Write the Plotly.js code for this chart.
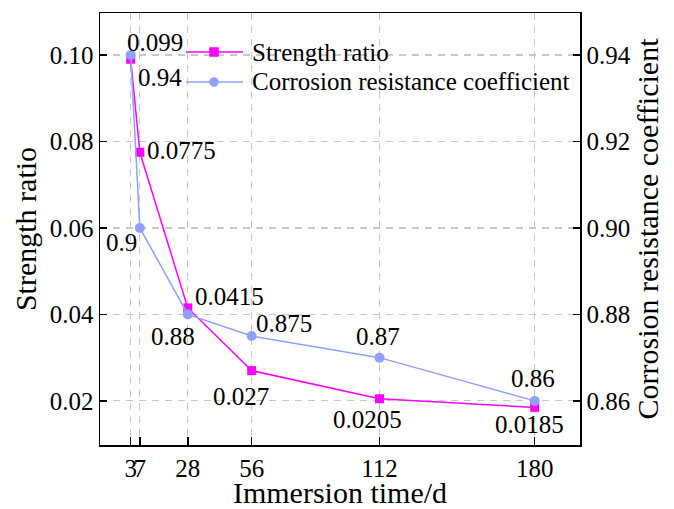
<!DOCTYPE html>
<html>
<head>
<meta charset="utf-8">
<script src="https://cdn.plot.ly/plotly-3.0.1.min.js"></script>
<style>
  html, body { margin: 0; padding: 0; background: #ffffff; }
</style>
</head>
<body>
<div id="chart"></div>
<script>
// Immersion time (days) and the two measured series
const days = [3, 7, 28, 56, 112, 180];
const dayLabels = ['3', '7', '28', '56', '112', '180'];
const strengthRatio = [0.099, 0.0775, 0.0415, 0.027, 0.0205, 0.0185];
const corrosionCoef = [0.94, 0.90, 0.88, 0.875, 0.87, 0.86];

// Label offsets (pixels) for the value tags beside each point
const strengthShift = [[24, 17], [42, 2], [42, 11], [-11, -26], [-12, -21], [-5, -17]];
const corrosionShift = [[29, -23], [-18, -15], [-15, -22], [32, 13], [-1, 21], [-2, 22]];

const PINK = '#ff00ff';
const BLUE = '#8fa0ff';

const traces = [
  {
    x: days, y: strengthRatio, name: 'Strength ratio', yaxis: 'y',
    mode: 'lines+markers',
    line: { color: PINK, width: 1.5 },
    marker: { symbol: 'square', size: 9, color: PINK },
    showlegend: false
  },
  {
    x: days, y: corrosionCoef, name: 'Corrosion resistance coefficient', yaxis: 'y2',
    mode: 'lines+markers',
    line: { color: BLUE, width: 1.5 },
    marker: { symbol: 'circle', size: 10, color: BLUE },
    showlegend: false
  }
];

const annotations = [];
strengthRatio.forEach((v, i) => {
  annotations.push({
    x: days[i], y: v, xref: 'x', yref: 'y', text: String(v), showarrow: false,
    xshift: strengthShift[i][0], yshift: strengthShift[i][1]
  });
});
corrosionCoef.forEach((v, i) => {
  annotations.push({
    x: days[i], y: v, xref: 'x', yref: 'y2', text: String(v), showarrow: false,
    xshift: corrosionShift[i][0], yshift: corrosionShift[i][1]
  });
});

// Legend drawn as line + marker samples with text entries
const legendRows = [
  { y: 0.9097, color: PINK, shape: 'rect', text: traces[0].name },
  { y: 0.8403, color: BLUE, shape: 'circle', text: traces[1].name }
];
const shapes = [];
const lx0 = 0.1792, lx1 = 0.2979, lxm = 0.2375;
const mw = 4.5 / 480, mh = 4.5 / 432;
legendRows.forEach(r => {
  shapes.push({ type: 'line', xref: 'paper', yref: 'paper', x0: lx0, x1: lx1, y0: r.y, y1: r.y,
    line: { color: r.color, width: 1.5 } });
  shapes.push({ type: r.shape, xref: 'paper', yref: 'paper',
    x0: lxm - mw, x1: lxm + mw, y0: r.y - mh, y1: r.y + mh,
    fillcolor: r.color, line: { color: r.color, width: 0.5 } });
  annotations.push({ x: 0.3125, y: r.y, xref: 'paper', yref: 'paper', xanchor: 'left', yanchor: 'middle',
    text: r.text, showarrow: false });
});

const grid = { showgrid: true, gridcolor: '#c8c8c8', gridwidth: 1.2, griddash: '7px,6px' };

const layout = {
  width: 674, height: 509,
  margin: { l: 100, r: 94, t: 13, b: 64, pad: 0 },
  paper_bgcolor: '#ffffff', plot_bgcolor: '#ffffff',
  font: { family: 'Liberation Serif', size: 25, color: '#000000' },
  showlegend: false,
  xaxis: Object.assign({
    range: [-10.45, 199.85], tickmode: 'array', tickvals: days, ticktext: dayLabels,
    tickangle: 0,
    ticks: 'inside', ticklen: 8, tickwidth: 1.5, tickcolor: '#000',
    showline: true, linecolor: '#000', linewidth: 1.5, mirror: true, zeroline: false,
    title: { text: 'Immersion time/d', standoff: 2 }
  }, grid),
  yaxis: Object.assign({
    range: [0.0098, 0.1097], tickmode: 'array',
    tickvals: [0.02, 0.04, 0.06, 0.08, 0.10], ticktext: ['0.02', '0.04', '0.06', '0.08', '0.10'],
    ticks: 'inside', ticklen: 7, tickwidth: 1.5, tickcolor: '#000',
    showline: true, linecolor: '#000', linewidth: 1.5, zeroline: false,
    title: { text: 'Strength ratio', standoff: 4 }
  }, grid),
  yaxis2: {
    overlaying: 'y', side: 'right',
    range: [0.8498, 0.9497], tickmode: 'array',
    tickvals: [0.86, 0.88, 0.90, 0.92, 0.94], ticktext: ['0.86', '0.88', '0.90', '0.92', '0.94'],
    ticks: 'inside', ticklen: 7, tickwidth: 1.5, tickcolor: '#000',
    showline: true, linecolor: '#000', linewidth: 1.5, zeroline: false, showgrid: false,
    title: { text: 'Corrosion resistance coefficient', standoff: 6 }
  },
  annotations: annotations,
  shapes: shapes
};

Plotly.newPlot('chart', traces, layout, { displayModeBar: false, staticPlot: true });
</script>
</body>
</html>
